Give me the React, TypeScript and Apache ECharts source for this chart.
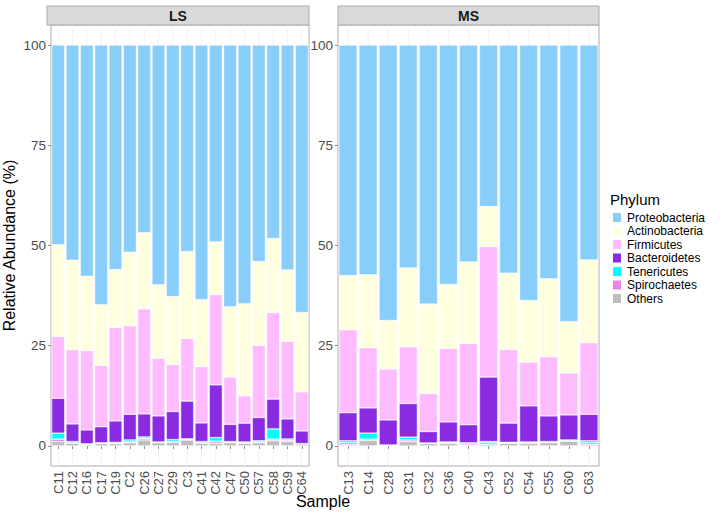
import React, { useEffect, useRef } from "react";
import * as echarts from "echarts";

const lsSamples = ["C11","C12","C16","C17","C19","C2","C26","C27","C29","C3","C41","C42","C47","C50","C57","C58","C59","C64"];
const msSamples = ["C13","C14","C28","C31","C32","C36","C40","C43","C52","C54","C55","C60","C63"];

const phyla = ["Proteobacteria","Actinobacteria","Firmicutes","Bacteroidetes","Tenericutes","Spirochaetes","Others"];
const phylumColors = ["#87CEFA","#FFFFE0","#FFBBFF","#8A2BE2","#00FFFF","#EE82EE","#BEBEBE"];
const yTicks = [0, 25, 50, 75, 100];

// LS panel values (%)
const lsProteobacteria = [49.8,53.7,57.7,64.75,56.0,51.7,46.8,59.8,62.75,51.5,63.5,49.1,65.3,64.5,54.0,48.25,56.1,66.7];
const lsActinobacteria = [22.9,22.3,18.5,15.15,14.4,18.3,18.95,18.3,16.95,21.7,16.7,13.15,17.5,23.0,20.9,18.45,17.8,19.8];
const lsFirmicutes = [15.4,18.5,19.8,15.3,23.35,22.1,26.25,14.4,11.7,15.6,14.05,22.5,11.8,6.8,18.0,21.6,19.35,9.75];
const lsBacteroidetes = [8.7,4.4,3.45,4.0,5.35,6.4,5.75,6.5,7.0,9.4,4.65,13.15,4.3,4.7,5.8,7.45,5.0,3.15];
const lsTenericutes = [1.5,0.3,0.2,0.1,0.2,0.5,0.35,0.1,0.5,0.2,0.3,0.9,0.2,0.2,0.3,2.55,0.35,0.05];
const lsSpirochaetes = [0.6,0.1,0.05,0.1,0.1,0.2,0.4,0.1,0.2,0.1,0.1,0.5,0.1,0.1,0.2,0.4,0.3,0.05];
const lsOthers = [1.1,0.7,0.3,0.6,0.6,0.8,1.5,0.8,0.9,1.5,0.7,0.7,0.8,0.7,0.8,1.3,1.1,0.5];

// MS panel values (%)
const msProteobacteria = [57.5,57.3,68.7,55.6,64.6,59.7,54.1,40.3,56.9,63.7,58.3,69.0,53.6];
const msActinobacteria = [13.5,18.2,12.1,19.65,22.3,16.0,20.3,9.95,19.0,15.4,19.45,12.8,20.65];
const msFirmicutes = [20.7,15.0,12.7,14.15,9.5,18.3,20.3,32.55,18.4,10.9,14.75,10.45,17.85];
const msBacteroidetes = [7.0,6.3,6.25,8.4,2.85,5.0,4.5,16.1,4.8,9.0,6.4,6.25,6.6];
const msTenericutes = [0.5,1.5,0.05,0.7,0.1,0.2,0.3,0.3,0.1,0.2,0.2,0.2,0.5];
const msSpirochaetes = [0.5,0.3,0.1,0.4,0.05,0.2,0.3,0.4,0.1,0.2,0.1,0.1,0.4];
const msOthers = [0.3,1.4,0.1,1.1,0.6,0.6,0.2,0.4,0.7,0.6,0.8,1.2,0.4];

const lsData = [lsProteobacteria, lsActinobacteria, lsFirmicutes, lsBacteroidetes, lsTenericutes, lsSpirochaetes, lsOthers];
const msData = [msProteobacteria, msActinobacteria, msFirmicutes, msBacteroidetes, msTenericutes, msSpirochaetes, msOthers];

const FONT = "'Liberation Sans', Arial, Helvetica, sans-serif";

export default function App() {
  const ref = useRef<HTMLDivElement>(null);

  useEffect(() => {
    document.body.style.margin = "0";
    if (!ref.current) return;
    const chart = echarts.init(ref.current, undefined, { renderer: "svg" });

    const grids = [
      { left: 47, top: 25, width: 262, height: 441 },
      { left: 338, top: 25, width: 261, height: 441 },
    ];
    const cats = [lsSamples, msSamples];
    const datas = [lsData, msData];

    const xAxes = cats.map((c, i) => ({
      type: "category",
      gridIndex: i,
      data: c,
      axisLine: { show: false },
      axisTick: { show: true, alignWithLabel: true, length: 3, lineStyle: { color: "#4D4D4D", width: 0.6 } },
      axisLabel: { rotate: 90, fontSize: 13, color: "#4D4D4D", fontFamily: FONT, margin: 5, interval: 0 },
      splitLine: { show: false },
    }));

    const yAxes = [0, 1].map((i) => ({
      type: "value",
      gridIndex: i,
      min: -5,
      max: 105,
      axisLine: { show: false },
      axisTick: { show: true, length: 3, customValues: yTicks, lineStyle: { color: "#4D4D4D", width: 0.6 } },
      axisLabel: { customValues: yTicks, fontSize: 13.5, color: "#4D4D4D", fontFamily: FONT, margin: 5 },
      splitLine: { show: false },
      name: i === 0 ? "Relative Abundance (%)" : "",
      nameLocation: "middle",
      nameGap: 34,
      nameTextStyle: { fontSize: 16, color: "#000", fontFamily: FONT },
    }));

    const series: any[] = [];
    // vertical grid lines at category centers
    cats.forEach((c, gi) => {
      series.push({
        type: "custom",
        name: "grid" + gi,
        xAxisIndex: gi,
        yAxisIndex: gi,
        z: 0,
        silent: true,
        data: c.map((_, k) => [k, 0]),
        renderItem: (params: any, api: any) => {
          const x = api.coord([api.value(0), 0])[0];
          const cs = params.coordSys;
          return {
            type: "line",
            shape: { x1: x, y1: cs.y, x2: x, y2: cs.y + cs.height },
            style: { stroke: "#EBEBEB", lineWidth: 0.6 },
          };
        },
      });
    });

    // stacked bars: bottom first (Others) to top (Proteobacteria)
    for (let gi = 0; gi < 2; gi++) {
      for (let p = phyla.length - 1; p >= 0; p--) {
        series.push({
          type: "bar",
          name: phyla[p],
          xAxisIndex: gi,
          yAxisIndex: gi,
          stack: "s" + gi,
          barCategoryGap: "9%",
          z: 2,
          itemStyle: { color: phylumColors[p], borderColor: "#FFFFFF", borderWidth: 0.5 },
          emphasis: { disabled: true },
          data: datas[gi][p],
        });
      }
    }

    chart.setOption({
      animation: false,
      textStyle: { fontFamily: FONT },
      grid: grids.map((g) => ({ ...g, show: true, borderColor: "#ABABAB", borderWidth: 1, backgroundColor: "#FFFFFF", containLabel: false })),
      xAxis: xAxes,
      yAxis: yAxes,
      legend: {
        data: phyla,
        orient: "vertical",
        left: 611,
        top: 211,
        padding: 0,
        itemWidth: 10,
        itemHeight: 11,
        itemGap: 0.5,
        icon: "rect",
        selectedMode: false,
        textStyle: { fontSize: 12, color: "#000", fontFamily: FONT, lineHeight: 13 },
      },
      graphic: [
        { type: "rect", shape: { x: 47, y: 6, width: 262, height: 19 }, style: { fill: "#D9D9D9", stroke: "#ABABAB", lineWidth: 1 } },
        { type: "rect", shape: { x: 338, y: 6, width: 261, height: 19 }, style: { fill: "#D9D9D9", stroke: "#ABABAB", lineWidth: 1 } },
        { type: "text", x: 178, y: 15.5, style: { text: "LS", fill: "#1A1A1A", font: `bold 14px ${FONT}`, textAlign: "center", textVerticalAlign: "middle" } },
        { type: "text", x: 468.5, y: 15.5, style: { text: "MS", fill: "#1A1A1A", font: `bold 14px ${FONT}`, textAlign: "center", textVerticalAlign: "middle" } },
        { type: "text", x: 323, y: 501, style: { text: "Sample", fill: "#000", font: `16px ${FONT}`, textAlign: "center", textVerticalAlign: "middle" } },
        { type: "text", x: 610, y: 199, style: { text: "Phylum", fill: "#000", font: `15px ${FONT}`, textAlign: "left", textVerticalAlign: "middle" } },
      ],
      series,
    });

    return () => chart.dispose();
  }, []);

  return <div ref={ref} style={{ width: 721, height: 514 }} />;
}
